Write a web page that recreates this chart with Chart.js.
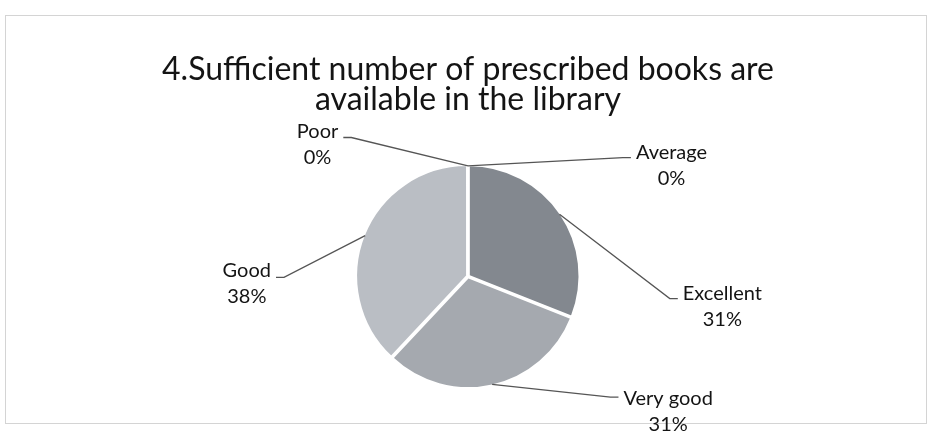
<!DOCTYPE html>
<html>
<head>
<meta charset="utf-8">
<script src="https://cdn.jsdelivr.net/npm/chart.js@4/dist/chart.umd.min.js"></script>
<style>
  html, body { margin: 0; padding: 0; background: #fff; }
</style>
</head>
<body>
<canvas id="chart-pie" width="929" height="439"></canvas>
<script>
var titleLines = ['4.Sufficient number of prescribed books are', 'available in the library'];
var categories = ['Excellent', 'Very good', 'Good', 'Average', 'Poor'];
var percentages = [31, 31, 38, 0, 0];

var sliceColors = ['#83888f', '#a5a9af', '#babec4', '#9a9ea4', '#c8cbd0'];
// label block position relative to pie centre, in radii (first line centre), plus leader y shift in px
var labelPlace = [[2.30, 0.155, 5], [1.81, 1.10, -1], [-2.0, -0.055, 7], [1.84, -1.12, 5], [-1.36, -1.31, 6]];

// faint frame like the scanned chart border
var framePlugin = {
    id: 'frame',
    beforeDraw: function(chart) {
        var ctx = chart.ctx;
        ctx.save();
        ctx.fillStyle = '#fff';
        ctx.fillRect(0, 0, chart.width, chart.height);
        ctx.strokeStyle = '#d4d4d4';
        ctx.lineWidth = 1;
        ctx.strokeRect(5.5, 15.5, chart.width - 8, 408);
        ctx.restore();
    }
};

// labels with leader lines, Excel style
var sliceLabels = {
    id: 'sliceLabels',
    afterDatasetsDraw: function(chart) {
        var ctx = chart.ctx;
        var meta = chart.getDatasetMeta(0);
        ctx.save();
        ctx.font = '20px Lato';
        ctx.fillStyle = '#141414';
        ctx.strokeStyle = '#555';
        ctx.lineWidth = 1.3;
        ctx.textAlign = 'center';
        ctx.textBaseline = 'middle';
        meta.data.forEach(function(arc, i) {
            var p = arc.getProps(['x', 'y', 'startAngle', 'endAngle', 'outerRadius'], true);
            var mid = (p.startAngle + p.endAngle) / 2;
            var r = p.outerRadius;
            var ex = p.x + Math.cos(mid) * r;
            var ey = p.y + Math.sin(mid) * r;
            var tx = p.x + labelPlace[i][0] * r;
            var ty = p.y + labelPlace[i][1] * r;
            var w = ctx.measureText(categories[i]).width;
            var right = labelPlace[i][0] > 0;
            var endX = right ? tx - w / 2 - 5 : tx + w / 2 + 5;
            var endY = ty + labelPlace[i][2];
            var elbowX = right ? endX - 8 : endX + 8;
            ctx.beginPath();
            ctx.moveTo(ex, ey);
            ctx.lineTo(elbowX, endY);
            ctx.lineTo(endX, endY);
            ctx.stroke();
            ctx.fillText(categories[i], tx, ty);
            ctx.fillText(percentages[i] + '%', tx, ty + 26);
        });
        ctx.restore();
    }
};

new Chart(document.getElementById('chart-pie'), {
    type: 'pie',
    data: {
        labels: categories,
        datasets: [{
            data: percentages,
            backgroundColor: sliceColors,
            borderColor: '#ffffff',
            borderWidth: function(c) { return percentages[c.dataIndex] ? 2 : 0; },
            offset: 4
        }]
    },
    options: {
        responsive: false,
        animation: false,
        devicePixelRatio: 1,
        layout: { padding: { left: 7, right: 0, top: 0, bottom: 49 } },
        plugins: {
            legend: { display: false },
            tooltip: { enabled: false },
            title: {
                display: true,
                text: titleLines,
                color: '#141414',
                font: { family: 'Lato', size: 32, weight: 'normal', lineHeight: 0.95 },
                padding: { top: 54, bottom: 48 }
            }
        }
    },
    plugins: [framePlugin, sliceLabels]
});
</script>
</body>
</html>
